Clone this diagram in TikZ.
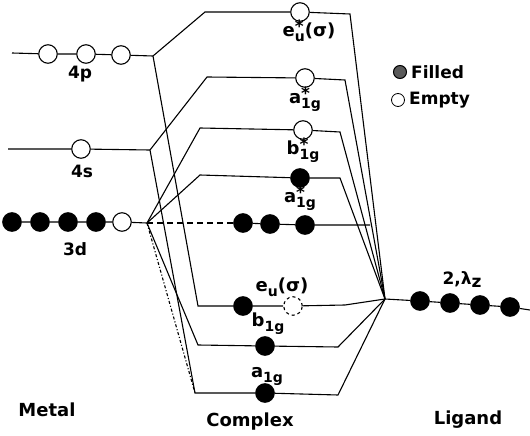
\documentclass[tikz,border=0pt]{standalone}
\usepackage{fontspec}
\setmainfont{DejaVu Sans}
\newcommand\orbst[2]{#1\rlap{\raisebox{4pt}{\fontsize{17}{17}\selectfont *}}\raisebox{-5pt}{\fontsize{14}{14}\selectfont #2}}
\newcommand\orbsb[2]{#1\raisebox{-5pt}{\fontsize{14}{14}\selectfont #2}}
\begin{document}
\begin{tikzpicture}[x=1pt,y=-1pt,
  orb/.style={circle,draw,line width=1.1pt,minimum size=18.5pt,inner sep=0pt},
  full/.style={orb,fill=black},
  empty/.style={orb,fill=white},
  legfull/.style={circle,draw,line width=1pt,minimum size=13pt,inner sep=0pt,fill=black!65},
  legempty/.style={circle,draw,line width=0.8pt,minimum size=13pt,inner sep=0pt,fill=white},
  ln/.style={line width=1.1pt},
  lbl/.style={font=\fontsize{17}{17}\selectfont\bfseries,inner sep=0pt},
  olbl/.style={font=\fontsize{18}{18}\selectfont\bfseries,inner sep=0pt,anchor=base},
  big/.style={font=\fontsize{18}{18}\selectfont\bfseries,inner sep=0pt},
]
\useasboundingbox (0,0) rectangle (530,436);

% junction points
\coordinate (P4) at (153,56);
\coordinate (S4) at (150,150);
\coordinate (D3) at (147,223);
\coordinate (L) at (385,299);
\coordinate (c1) at (205,12);
\coordinate (c2) at (207,77);
\coordinate (c3) at (200,128);
\coordinate (c4) at (200,175);
\coordinate (c6) at (198,306);
\coordinate (c7) at (198,345);
\coordinate (c8) at (195,393);
\coordinate (r1) at (350,14);
\coordinate (r2) at (345,80);
\coordinate (r3) at (340,132);
\coordinate (r4) at (340,178);
\coordinate (r6) at (345,305);
\coordinate (r7) at (338,347);
\coordinate (r8) at (338,395);
\coordinate (nbR) at (370,225);
\coordinate (m4pL) at (12,53);
\coordinate (m4sL) at (8,149);
\coordinate (LR) at (530,310);

% metal
\node[empty] (p1) at (48,54) {};
\node[empty] (p2) at (86,54) {};
\node[empty] (p3) at (121,55) {};
\node[empty] (s1) at (81,149) {};
\node[full] (d1) at (12,222) {};
\node[full] (d2) at (40,222) {};
\node[full] (d3) at (68,222) {};
\node[full] (d4) at (96,222) {};
\node[empty] (d5) at (122,222) {};

% complex
\node[empty] (eus) at (300,12) {};
\node[empty] (a1gs) at (305,78) {};
\node[empty] (b1gs) at (303,130) {};
\node[full] (a1gsf) at (300,178) {};
\node[full] (nb1) at (243,223) {};
\node[full] (nb2) at (270,224) {};
\node[full] (nb3) at (305,225) {};
\node[full] (eu1) at (243,306) {};
\node[empty,dashed] (eu2) at (293,306) {};
\node[full] (b1g) at (265,346) {};
\node[full] (a1g) at (265,393) {};

% ligand
\node[full] (l1) at (420,301) {};
\node[full] (l2) at (450,303) {};
\node[full] (l3) at (480,305) {};
\node[full] (l4) at (510,307) {};

% metal level lines
\draw[ln] (m4pL) -- (p1) -- (p2) -- (p3) -- (P4);
\draw[ln] (m4sL) -- (s1) -- (S4);
\draw[ln] (d1) -- (d2) -- (d3) -- (d4) -- (d5) -- (D3);
\draw[ln] (L) -- (l1) -- (l2) -- (l3) -- (l4) -- (LR);

% correlation lines
\draw[ln] (P4) -- (c1) -- (eus) -- (r1) -- (L);
\draw[ln] (P4) -- (c6) -- (eu1) -- (eu2) -- (r6) -- (L);
\draw[ln] (S4) -- (c2) -- (a1gs) -- (r2) -- (L);
\draw[ln] (S4) -- (c8) -- (a1g) -- (r8) -- (L);
\draw[ln] (D3) -- (c3) -- (b1gs) -- (r3) -- (L);
\draw[ln] (D3) -- (c4) -- (a1gsf) -- (r4) -- (L);
\draw[ln,dash pattern=on 6pt off 4pt] (D3) -- (nb1);
\draw[ln] (nb1) -- (nb2) -- (nb3) -- (nbR);
\draw[ln] (D3) -- (c7) -- (b1g) -- (r7) -- (L);
\draw[ln,dash dot] (D3) -- (c8);

% labels
\node[lbl] (t4p) at (80,74) {4p};
\node[lbl] (t4s) at (82,171) {4s};
\node[lbl] (t3d) at (75,249) {3d};
\node[olbl] (teus) at (309,37) {\orbst{e}{u}(σ)};
\node[olbl] (ta1gs) at (305,103) {\orbst{a}{1g}};
\node[olbl] (tb1gs) at (303,154) {\orbst{b}{1g}};
\node[olbl] (ta1gsf) at (300,202) {\orbst{a}{1g}};
\node[olbl] (teu) at (282,291) {\orbsb{e}{u}(σ)};
\node[olbl] (tb1g) at (268,326) {\orbsb{b}{1g}};
\node[olbl] (ta1g) at (267,377) {\orbsb{a}{1g}};
\node[lbl] (tlig) at (462,280) {2,λ\raisebox{-3pt}{z}};

\node[big] (tmetal) at (47,410) {Metal};
\node[big] (tcomplex) at (250,422) {Complex};
\node[big] (tligand) at (468,420) {Ligand};

% legend
\node[legfull] (kf) at (400,72) {};
\node[lbl,anchor=west] (kft) at (411,72) {Filled};
\node[legempty] (ke) at (398,100) {};
\node[lbl,anchor=west] (ket) at (409,100) {Empty};
\end{tikzpicture}
\end{document}
